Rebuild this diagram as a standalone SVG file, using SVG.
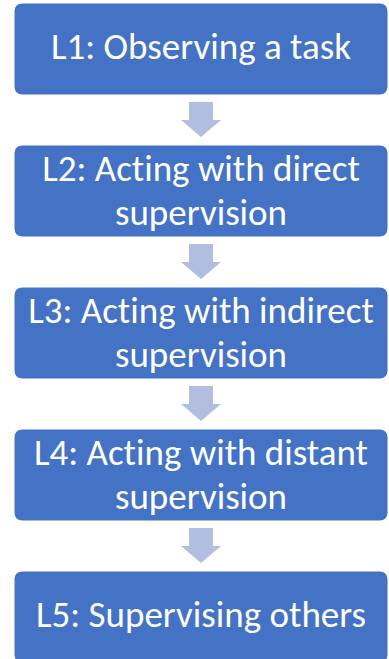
<svg xmlns="http://www.w3.org/2000/svg" width="389" height="659" viewBox="0 0 389 659">
  <defs>
    <style>
      .box { fill: #4472C4; stroke: #FFFFFF; stroke-width: 1; }
      .lbl { fill: #FFFFFF; font-family: Calibri, Carlito, "Open Sans", "Noto Sans", sans-serif; font-size: 37px; text-anchor: middle; font-variant-ligatures: none; }
      .arrow { fill: #B1BEE0; }
    </style>
    <path id="downArrow" class="arrow" d="M -12 0 H 12 V 18 H 20 L 0 35 L -20 18 H -12 Z"/>
  </defs>
  <rect width="389" height="659" fill="#FFFFFF"/>

  <!-- connectors between levels -->
  <g id="connectors">
    <use href="#downArrow" x="201" y="102"/>
    <use href="#downArrow" x="201" y="244"/>
    <use href="#downArrow" x="201" y="386"/>
    <use href="#downArrow" x="201" y="528"/>
  </g>

  <g id="level1">
    <rect class="box" x="14" y="3" width="374" height="92" rx="8"/>
    <text class="lbl" x="201" y="59">L1: Observing a task</text>
  </g>

  <g id="level2">
    <rect class="box" x="14" y="145" width="374" height="92" rx="8"/>
    <text class="lbl" x="201" y="181">L2: Acting with direct</text>
    <text class="lbl" x="201" y="225">supervision</text>
  </g>

  <g id="level3">
    <rect class="box" x="14" y="287" width="374" height="92" rx="8"/>
    <text class="lbl" x="201" y="323">L3: Acting with indirect</text>
    <text class="lbl" x="201" y="367">supervision</text>
  </g>

  <g id="level4">
    <rect class="box" x="14" y="429" width="374" height="92" rx="8"/>
    <text class="lbl" x="201" y="465">L4: Acting with distant</text>
    <text class="lbl" x="201" y="509">supervision</text>
  </g>

  <g id="level5">
    <rect class="box" x="14" y="571" width="374" height="92" rx="8"/>
    <text class="lbl" x="201" y="627">L5: Supervising others</text>
  </g>
</svg>
